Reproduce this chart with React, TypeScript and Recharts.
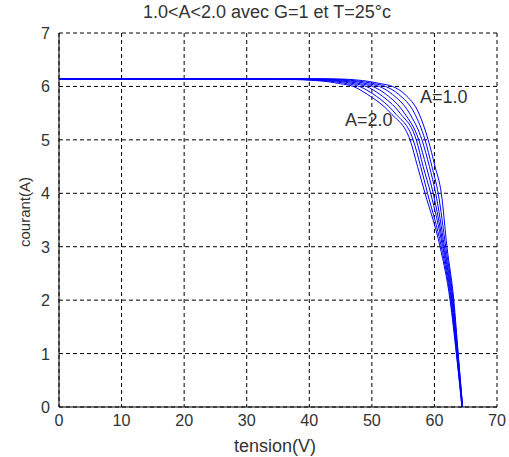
import React from 'react';
import { LineChart, Line, XAxis, YAxis, CartesianGrid, ReferenceDot } from 'recharts';

const voltageTicks = [0, 10, 20, 30, 40, 50, 60, 70];
const currentTicks = [0, 1, 2, 3, 4, 5, 6, 7];
const chartTitle = '1.0<A<2.0 avec G=1 et T=25°c';
const xLabel = 'tension(V)';
const yLabel = 'courant(A)';

// current levels (A) shared by every curve, voltage (V) read per curve
const currentLevels = [6.14, 6.14, 6.11, 6.05, 6.0, 5.85, 5.5, 5.0, 4.5, 4.0, 3.0, 2.0, 1.0, 0];
const voltageA10 = [0, 44, 48.5, 51.5, 53.3, 55.3, 57.5, 59.0, 60.1, 61.1, 62.0, 63.1, 63.8, 64.5];
const voltageA12 = [0, 42.2, 47.2, 50.4, 52.2, 54.3, 56.8, 58.5, 59.6, 60.6, 61.8, 63.0, 63.75, 64.5];
const voltageA13 = [0, 40.3, 46.0, 49.3, 51.2, 53.3, 56.0, 58.0, 59.2, 60.2, 61.6, 62.9, 63.7, 64.5];
const voltageA15 = [0, 38.5, 44.7, 48.2, 50.1, 52.3, 55.2, 57.5, 58.7, 59.8, 61.45, 62.8, 63.65, 64.45];
const voltageA17 = [0, 36.7, 43.5, 47.2, 49.1, 51.3, 54.5, 57.1, 58.2, 59.4, 61.3, 62.7, 63.6, 64.45];
const voltageA18 = [0, 34.8, 42.2, 46.1, 48.0, 50.3, 53.7, 56.6, 57.8, 58.9, 61.1, 62.6, 63.55, 64.4];
const voltageA20 = [0, 33, 41, 45, 47, 49.3, 53, 56.1, 57.3, 58.5, 60.9, 62.5, 63.5, 64.4];

const curves = [voltageA10, voltageA12, voltageA13, voltageA15, voltageA17, voltageA18, voltageA20];

const labelA10 = { text: 'A=1.0', v: 57.7, i: 5.69 };
const labelA20 = { text: 'A=2.0', v: 45.7, i: 5.26 };

const FONT = '"Liberation Sans", Arial, sans-serif';
const TXT = '#333';
const TICK_FS = 17;
const TICK_SX = 0.95;
const TEXT_FS = 18;

const XTick = (props: any) => {
  const { x, y, payload } = props;
  return (
    <text transform={`translate(${x},${y}) scale(${TICK_SX},1)`} textAnchor="middle" dy={19} fontSize={TICK_FS} fontFamily={FONT} fill={TXT}>
      {payload.value}
    </text>
  );
};

const YTick = (props: any) => {
  const { x, y, payload } = props;
  return (
    <text transform={`translate(${x},${y}) scale(${TICK_SX},1)`} textAnchor="end" dy={6} fontSize={TICK_FS} fontFamily={FONT} fill={TXT}>
      {payload.value}
    </text>
  );
};

const makeNote = (text: string) => (props: any) => {
  const vb = props.viewBox || {};
  const x = vb.x + (vb.width || 0) / 2;
  const y = vb.y + (vb.height || 0) / 2;
  return (
    <text x={x} y={y} textAnchor="start" fontSize={TEXT_FS} fontFamily={FONT} fill={TXT}>
      {text}
    </text>
  );
};

export default function App() {
  return (
    <div style={{ position: 'absolute', left: 0, top: 0, width: 509, height: 457, background: '#fff' }}>
      <svg width={509} height={457} style={{ position: 'absolute', left: 0, top: 0 }}>
        <text x={267} y={18} textAnchor="middle" fontSize={TEXT_FS} fontFamily={FONT} fill={TXT}>
          {chartTitle}
        </text>
        <text transform="translate(30,212) rotate(-90)" textAnchor="middle" fontSize={15} fontFamily={FONT} fill={TXT}>
          {yLabel}
        </text>
        <text x={275} y={452} textAnchor="middle" fontSize={TEXT_FS} fontFamily={FONT} fill={TXT}>
          {xLabel}
        </text>
      </svg>
      <div style={{ position: 'absolute', left: 0, top: 0 }}>
        <LineChart width={509} height={457} margin={{ top: 33, right: 12, bottom: 49, left: 58 }}>
          <CartesianGrid stroke="#000" strokeDasharray="4 3" strokeWidth={1} />
          <XAxis
            type="number"
            dataKey="v"
            domain={[0, 70]}
            ticks={voltageTicks}
            height={1}
            tickSize={0}
            tickMargin={0}
            tickLine={false}
            axisLine={{ stroke: '#000', strokeWidth: 1 }}
            tick={<XTick />}
            interval={0}
            allowDataOverflow
          />
          <YAxis
            type="number"
            dataKey="i"
            domain={[0, 7]}
            ticks={currentTicks}
            width={1}
            tickSize={0}
            tickMargin={9}
            tickLine={false}
            axisLine={{ stroke: '#000', strokeWidth: 1 }}
            tick={<YTick />}
            interval={0}
            allowDataOverflow
          />
          {curves.map((volts, idx) => (
            <Line
              key={idx}
              data={currentLevels.map((c, k) => ({ v: volts[k], i: c }))}
              dataKey="i"
              type="monotone"
              stroke="#0000ff"
              strokeWidth={1}
              dot={false}
              isAnimationActive={false}
            />
          ))}
          <ReferenceDot x={labelA10.v} y={labelA10.i} r={0} fill="none" stroke="none" label={makeNote(labelA10.text)} />
          <ReferenceDot x={labelA20.v} y={labelA20.i} r={0} fill="none" stroke="none" label={makeNote(labelA20.text)} />
        </LineChart>
      </div>
    </div>
  );
}
